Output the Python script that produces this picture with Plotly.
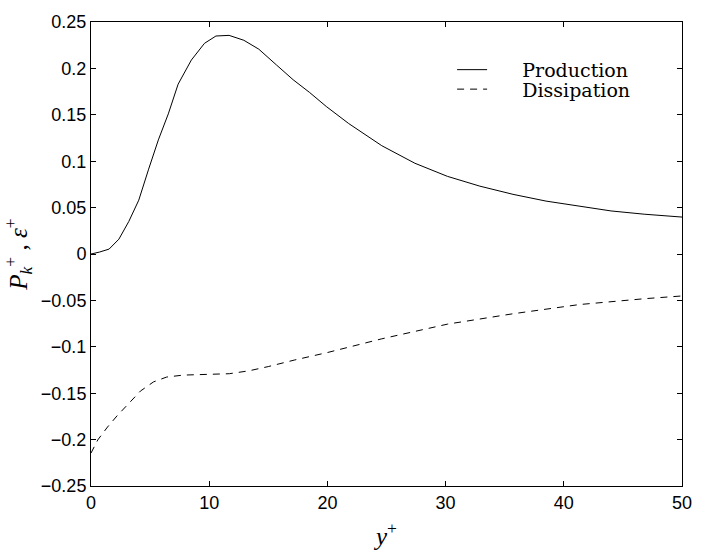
import plotly.graph_objects as go

# Production P_k^+
yplus_prod = [0, 0.7, 1.53, 2.36, 3.2, 4.04, 4.875, 5.7, 6.54, 7.37, 8.49, 9.6, 10.57, 11.68,
              12.93, 14.2, 15.7, 17.1, 18.5, 19.9, 21.8, 24.6, 27.4, 30.15, 32.9, 35.7, 38.5,
              41.3, 44.0, 46.8, 50]
production = [0.0, 0.002, 0.0053, 0.016, 0.0351, 0.058, 0.0914, 0.123, 0.151, 0.183, 0.209,
              0.227, 0.2349, 0.2356, 0.2303, 0.2207, 0.2036, 0.1878, 0.174, 0.159, 0.1406,
              0.1167, 0.0978, 0.0837, 0.0731, 0.0643, 0.057, 0.0513, 0.0464, 0.0429, 0.0398]

# Dissipation eps^+
yplus_diss = [0, 0.57, 1.4, 2.23, 3.2, 4.18, 5.29, 6.4, 7.79, 10.0, 11.7, 13.35, 15.0, 17.2,
              20.0, 24.6, 30.15, 35.7, 41.3, 46.8, 50]
dissipation = [-0.2145, -0.2004, -0.1864, -0.174, -0.161, -0.1477, -0.1378, -0.1326, -0.1305,
               -0.1301, -0.129, -0.1259, -0.1213, -0.1143, -0.1062, -0.0914, -0.0756, -0.0644,
               -0.0545, -0.0482, -0.0452]

x_ticks = [0, 10, 20, 30, 40, 50]
y_ticks = [-0.25, -0.2, -0.15, -0.1, -0.05, 0, 0.05, 0.1, 0.15, 0.2, 0.25]
y_ticktext = ["\u22120.25", "\u22120.2", "\u22120.15", "\u22120.1", "\u22120.05", "0",
              "0.05", "0.1", "0.15", "0.2", "0.25"]

pad = "\u00a0" * 5

fig = go.Figure()
fig.add_trace(go.Scatter(x=yplus_prod, y=production, mode="lines", name=pad + "Production",
                         legend="legend",
                         line=dict(color="black", width=1)))
fig.add_trace(go.Scatter(x=yplus_diss, y=dissipation, mode="lines", name=pad + "Dissipation",
                         legend="legend2",
                         line=dict(color="black", width=1, dash="7px,6px")))

axis_common = dict(showline=True, linecolor="black", linewidth=1, mirror="ticks",
                   ticks="inside", ticklen=5, tickcolor="black", tickwidth=1,
                   showgrid=False, zeroline=False,
                   tickfont=dict(family="Liberation Sans, Arial, sans-serif", size=18, color="black"))

legend_common = dict(xanchor="left", yanchor="middle", bgcolor="rgba(0,0,0,0)",
                     font=dict(family="DejaVu Serif, Liberation Serif, serif", size=19, color="black"),
                     itemwidth=30)

fig.update_layout(
    width=704, height=557,
    margin=dict(l=91, r=12, t=13, b=70),
    plot_bgcolor="white", paper_bgcolor="white",
    showlegend=True,
    legend=dict(x=0.611, y=0.897, **legend_common),
    legend2=dict(x=0.611, y=0.855, **legend_common),
    xaxis=dict(range=[0, 50], tickvals=x_ticks, **axis_common,
               title=dict(text="<i>y</i><sup>+</sup>", standoff=15,
                          font=dict(family="Liberation Serif, serif", size=25, color="black"))),
    yaxis=dict(range=[-0.25, 0.25], tickvals=y_ticks, ticktext=y_ticktext, **axis_common,
               title=dict(text="<i>P</i><sub><i>k</i></sub><sup>+</sup> , <i>\u03b5</i><sup>+</sup>",
                          standoff=6,
                          font=dict(family="Liberation Serif, serif", size=25, color="black"))),
)

fig.write_html("out.html")
